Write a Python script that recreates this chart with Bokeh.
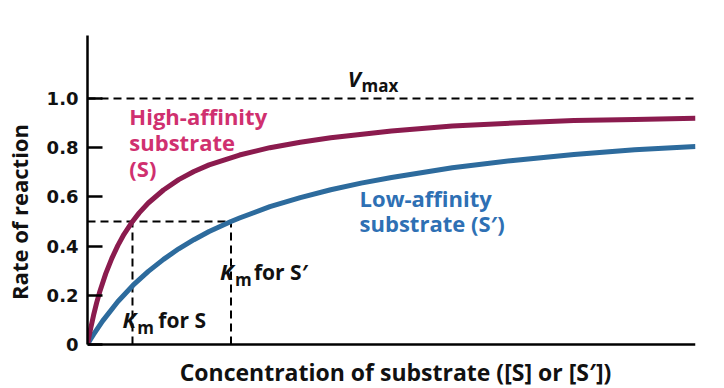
from bokeh.plotting import figure
from bokeh.models import Range1d, Span, Label, FixedTicker
from bokeh.embed import file_html
from bokeh.resources import INLINE

# ---- data (concentration in arbitrary units 0..10) ----
conc_high = [0, 0.02, 0.05, 0.1, 0.15, 0.2, 0.3, 0.4, 0.5, 0.6, 0.74, 0.85, 1.0, 1.25,
             1.5, 1.75, 2.0, 2.5, 3.0, 3.5, 4.0, 5.0, 6.0, 7.0, 8.0, 9.0, 10.0]
rate_high = [0, 0.026, 0.063, 0.119, 0.169, 0.213, 0.288, 0.350, 0.403, 0.448, 0.500,
             0.535, 0.575, 0.628, 0.670, 0.703, 0.730, 0.770, 0.800, 0.822, 0.840,
             0.868, 0.888, 0.900, 0.910, 0.915, 0.920]

conc_low = [0, 0.05, 0.1, 0.25, 0.5, 0.75, 1.0, 1.25, 1.5, 1.75, 2.0, 2.36, 2.5, 3.0,
            3.5, 4.0, 4.5, 5.0, 6.0, 7.0, 8.0, 9.0, 10.0]
rate_low = [0, 0.021, 0.041, 0.096, 0.175, 0.241, 0.297, 0.346, 0.389, 0.426, 0.459,
            0.500, 0.514, 0.560, 0.597, 0.629, 0.656, 0.679, 0.718, 0.748, 0.772,
            0.792, 0.805]

vmax = 1.0
half_vmax = 0.5
km_s = 0.74
km_s_prime = 2.36

y_ticks = [0, 0.2, 0.4, 0.6, 0.8, 1.0]
y_tick_labels = ["0", "0.2", "0.4", "0.6", "0.8", "1.0"]

FONT = "Open Sans"
TICK_FONT = "DejaVu Sans"
RED = "#8b1b4e"
BLUE = "#2d6b9d"
PINK_TEXT = "#d0306f"
BLUE_TEXT = "#2e70b4"

Y_TOP = 1.256
Y_BOTTOM = -0.179   # room under the x axis for its title

p = figure(width=720, height=388, x_range=Range1d(0, 10), y_range=Range1d(Y_BOTTOM, Y_TOP),
           output_backend="svg", toolbar_location=None,
           min_border_left=85, min_border_right=25, min_border_top=35, min_border_bottom=0)
p.outline_line_color = None
p.grid.visible = False
p.background_fill_color = "white"
p.xaxis.visible = False

# y axis (line drawn only from 0 upward)
p.yaxis.bounds = (0, Y_TOP)
p.yaxis.ticker = FixedTicker(ticks=y_ticks)
p.yaxis.major_label_overrides = {t: s for t, s in zip(y_ticks, y_tick_labels)}
p.yaxis.minor_tick_line_color = None
p.yaxis.major_tick_in = 15
p.yaxis.major_tick_out = 0
p.yaxis.major_tick_line_width = 2.5
p.yaxis.axis_line_width = 2.5
p.yaxis.major_label_text_font = TICK_FONT
p.yaxis.major_label_text_font_style = "bold"
p.yaxis.major_label_text_font_size = "18px"
p.yaxis.major_label_text_color = "#111111"
p.yaxis.major_label_standoff = 9
p.yaxis.axis_label = "Rate of reaction"
p.yaxis.axis_label_text_font = FONT
p.yaxis.axis_label_text_font_style = "bold"
p.yaxis.axis_label_text_font_size = "22px"
p.yaxis.axis_label_text_color = "#111111"
p.yaxis.axis_label_standoff = 10

# x axis line at rate 0
p.add_layout(Span(location=0, dimension="width", line_color="black", line_width=2.5))

# Vmax and Km guides
p.add_layout(Span(location=vmax, dimension="width", line_color="black",
                  line_width=2, line_dash="8 5"))
p.segment(x0=[0, km_s, km_s_prime], y0=[half_vmax, 0, 0],
          x1=[km_s_prime, km_s, km_s_prime], y1=[half_vmax, half_vmax, half_vmax],
          line_color="black", line_width=2, line_dash="8 5")

# curves
p.line(conc_low, rate_low, line_color=BLUE, line_width=5)
p.line(conc_high, rate_high, line_color=RED, line_width=5)


def X(px):
    return (px - 85) / 61.0


def Y(py):
    return (344 - py) / 246.0


def txt(px, py, s, size=18, color="#111111", style="bold", align="left"):
    # py is the wanted baseline; compensate the renderer's baseline offset
    p.add_layout(Label(x=X(px), y=Y(py - 0.42 * size), text=s, text_font=FONT,
                       text_font_style=style, text_font_size=f"{size}px",
                       text_color=color, text_baseline="alphabetic", text_align=align))


# x axis title
txt(394, 381, "Concentration of substrate ([S] or [S\u2032])", 23, "#111111", "bold", "center")

# V_max
txt(346, 87, "V", 22, "#111111", "bold italic")
txt(360, 92, "max", 17)

# High-affinity label
txt(127, 125, "High-affinity", 22, PINK_TEXT)
txt(127, 151, "substrate", 22, PINK_TEXT)
txt(127, 177, "(S)", 22, PINK_TEXT)

# Low-affinity label
txt(358, 207, "Low-affinity", 22, BLUE_TEXT)
txt(358, 232, "substrate (S\u2032)", 22, BLUE_TEXT)

# Km labels
txt(218, 280, "K", 22, "#111111", "bold italic")
txt(233, 286, "m", 17)
txt(252, 280, "for S\u2032", 21)

txt(120, 328, "K", 22, "#111111", "bold italic")
txt(135, 334, "m", 17)
txt(156, 328, "for S", 21)

open("out.html", "w").write(file_html(p, INLINE))
